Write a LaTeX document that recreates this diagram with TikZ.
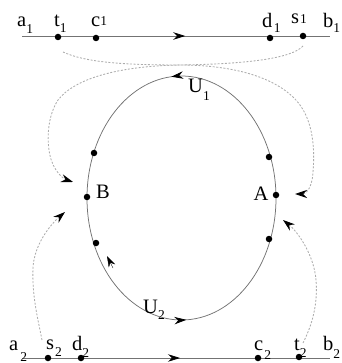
\documentclass[tikz,border=0pt]{standalone}
\usepackage{fontspec}
\setmainfont{Liberation Serif}
\usetikzlibrary{arrows.meta,decorations.markings}
\newcommand\lb[3]{#1\raisebox{-#3pt}{\fontsize{13.5}{13.5}\selectfont #2}}
\begin{document}
\begin{tikzpicture}[x=1pt,y=-1pt,
  solidline/.style={draw=gray!90!black, line width=0.75pt},
  conn/.style={draw=gray!65, line width=0.85pt, dash pattern=on 2pt off 1.6pt},
  dot/.style={circle, fill=black, inner sep=0pt, minimum size=6.5pt},
  lab/.style={font=\fontsize{20.5}{20.5}\selectfont, inner sep=0pt},
  tipa/.style={-{Stealth[length=12pt,width=8pt,inset=4pt,color=black]}},
  midarrow/.style={postaction={decorate},decoration={markings,
     mark=at position #1 with {\arrow{Stealth[length=12pt,width=7.5pt,inset=4pt,color=black]}}}}
]
\useasboundingbox (0,0) rectangle (341,363);

% top and bottom lines
\coordinate (a1e) at (22,36);
\coordinate (b1e) at (330,36);
\coordinate (a2e) at (22,358);
\coordinate (b2e) at (330,358);
\draw[solidline, midarrow=0.53] (a1e) -- (b1e);
\draw[solidline, midarrow=0.513] (a2e) -- (b2e);

% ellipse
\coordinate (C) at (181.5,198);
\draw[solidline, postaction={decorate}, decoration={markings,
   mark=at position 0.265 with {\arrow{Stealth[length=12pt,width=7.5pt,inset=4pt,color=black]}},
   mark=at position 0.757 with {\arrow{Stealth[length=12pt,width=7.5pt,inset=4pt,color=black]}}}]
  (C) ++(94.5,0) arc[start angle=0, end angle=-360, x radius=94.5, y radius=122];

% dots
\node[dot] (t1) at (58,37) {};
\node[dot] (c1) at (96,38) {};
\node[dot] (d1) at (270,38) {};
\node[dot] (s1) at (303,36) {};
\node[dot] (s2) at (48,358) {};
\node[dot] (d2) at (81,358) {};
\node[dot] (c2) at (258,358) {};
\node[dot] (t2) at (299,357) {};
\node[dot] (B) at (87,197) {};
\node[dot] (A) at (276,195) {};
\node[dot] (BU) at (94,153) {};
\node[dot] (BL) at (96,243) {};
\node[dot] (AU) at (269,157) {};
\node[dot] (AL) at (269,239) {};

% labels
\node[lab, anchor=base west] (la1) at (17,27) {\lb{a}{1}{7}};
\node[lab, anchor=base west] (lt1) at (54,27) {\lb{t}{1}{6}};
\node[lab, anchor=base west] (lc1) at (91,27) {\lb{c}{1}{-1}};
\node[lab, anchor=base west] (ld1) at (262,28) {\lb{d\kern1.5pt}{1}{5}};
\node[lab, anchor=base west] (ls1) at (291,24) {\lb{s\kern1pt}{1}{0}};
\node[lab, anchor=base west] (lb1) at (323,28) {\lb{b}{1}{5}};
\node[lab, anchor=base west] (la2) at (9,350) {\lb{a\kern2pt}{2}{11}};
\node[lab, anchor=base west] (ls2) at (46,349) {\lb{s\kern1pt}{2}{7}};
\node[lab, anchor=base west] (ld2) at (72,350) {\lb{d}{2}{7}};
\node[lab, anchor=base west] (lc2) at (254,350) {\lb{c\kern1pt}{2}{9}};
\node[lab, anchor=base west] (lt2) at (294,350) {\lb{t}{2}{7}};
\node[lab, anchor=base west] (lb2) at (323,350) {\lb{b}{2}{8}};
\node[lab, anchor=base west] (lU1) at (188,93) {\lb{U}{1}{8}};
\node[lab, anchor=base west] (lU2) at (143,313) {\lb{U}{2}{6}};
\node[lab] (lA) at (261,194) {A};
\node[lab] (lB) at (103,192) {B};

% dashed connectors
\coordinate (t1s) at (63,52);
\coordinate (s1s) at (303,46);
\coordinate (s2s) at (42,340);
\coordinate (t2s) at (303,343);
\coordinate (Ain1) at (295,194);
\coordinate (Bin1) at (73,182);
\coordinate (Bin2) at (65,212);
\coordinate (Ain2) at (283,220);

\draw[conn, tipa] (t1s) .. controls (85,62) and (120,65) .. (180,65)
  .. controls (235,65) and (280,78) .. (300,105)
  .. controls (316,127) and (314,160) .. (313,172)
  .. controls (312,190) and (305,194) .. (Ain1);
\draw[conn, tipa] (s1s) .. controls (292,58) and (250,64) .. (180,65)
  .. controls (120,66) and (75,78) .. (58,100)
  .. controls (45,120) and (47,150) .. (52,162)
  .. controls (56,173) and (64,179) .. (Bin1);
\draw[conn, tipa] (s2s) .. controls (37,315) and (32,295) .. (33,268)
  .. controls (34,245) and (50,225) .. (Bin2);
\draw[conn, tipa] (t2s) .. controls (312,325) and (318,305) .. (316,280)
  .. controls (314,255) and (298,232) .. (Ain2);

% small arrow mark
\coordinate (cb) at (113,268);
\coordinate (ct) at (107,256);
\draw[black, line width=0.4pt, -{Stealth[length=11pt,width=7pt,inset=3.5pt]}] (cb) -- (ct);
\end{tikzpicture}
\end{document}
